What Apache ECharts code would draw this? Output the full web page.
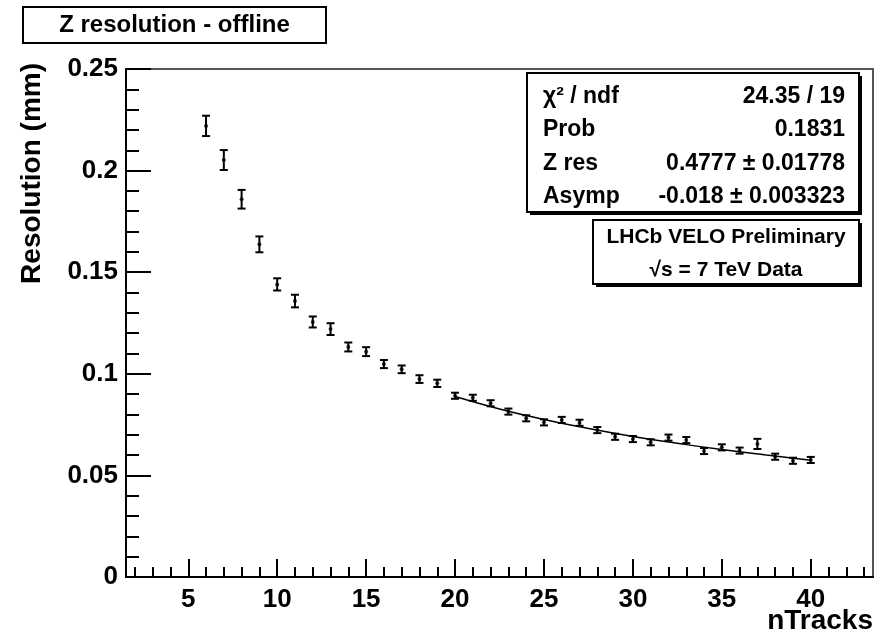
<!DOCTYPE html>
<html>
<head>
<meta charset="utf-8">
<script src="https://cdn.jsdelivr.net/npm/echarts@6/dist/echarts.min.js"></script>
<style>
html,body{margin:0;padding:0;background:#fff;}
#chart{width:883px;height:640px;}
</style>
</head>
<body>
<div id="chart"></div>
<script>
// ---- data ----
var nTracks = [6,7,8,9,10,11,12,13,14,15,16,17,18,19,20,21,22,23,24,25,26,27,28,29,30,31,32,33,34,35,36,37,38,39,40];
var resolution = [0.2220,0.2052,0.1859,0.1637,0.1440,0.1358,0.1255,0.1220,0.1132,0.1109,0.1048,0.1022,0.0974,0.0953,0.0892,0.0882,0.0855,0.0814,0.0781,0.0761,0.0773,0.0759,0.0723,0.0690,0.0679,0.0663,0.0686,0.0674,0.0620,0.0638,0.0622,0.0655,0.0592,0.0572,0.0576];
var resErr = [0.0050,0.0049,0.0046,0.0039,0.0030,0.0031,0.0027,0.0029,0.0022,0.0022,0.0020,0.0019,0.0019,0.0018,0.0015,0.0015,0.0015,0.0015,0.0015,0.0015,0.0015,0.0015,0.0015,0.0015,0.0015,0.0015,0.0015,0.0015,0.0015,0.0015,0.0015,0.0025,0.0015,0.0015,0.0015];
var fitX = [20,22.5,25,27.5,30,32.5,35,37.5,40];
var fitY = [0.0888,0.0827,0.0775,0.0731,0.0692,0.0658,0.0627,0.0600,0.0575];
var xMajorTicks = [5,10,15,20,25,30,35,40];
var xMinorTicks = [2,3,4,5,6,7,8,9,10,11,12,13,14,15,16,17,18,19,20,21,22,23,24,25,26,27,28,29,30,31,32,33,34,35,36,37,38,39,40,41,42,43];
var statLabels = ['χ² / ndf','Prob','Z res','Asymp'];
var statValues = ['24.35 / 19','0.1831','0.4777 ± 0.01778','-0.018 ± 0.003323'];
var titleText = 'Z resolution - offline';
var xTitle = 'nTracks';
var yTitle = 'Resolution (mm)';
var infoLines = ['LHCb VELO Preliminary','√s = 7 TeV Data'];

var FONT = '"Liberation Sans", Arial, Helvetica, sans-serif';

var pts = nTracks.map(function(x,i){ return [x, resolution[i], resErr[i]]; });
var fitData = fitX.map(function(x,i){ return [x, fitY[i]]; });

var chart = echarts.init(document.getElementById('chart'), null, {renderer:'canvas'});

var statGraphics = [];
var rowY = [97,130,164,197];
statLabels.forEach(function(t,i){
  statGraphics.push({type:'text', x:543, y:rowY[i], z:102, style:{text:t, font:'bold 23px '+FONT, fill:'#000', align:'left', verticalAlign:'middle'}});
  statGraphics.push({type:'text', x:845, y:rowY[i], z:102, style:{text:statValues[i], font:'bold 23px '+FONT, fill:'#000', align:'right', verticalAlign:'middle'}});
});

var option = {
  animation:false,
  backgroundColor:'#fff',
  grid:{left:126, right:10, top:69, bottom:63, show:true, borderColor:'#555', borderWidth:2, backgroundColor:'transparent'},
  xAxis:[{
    type:'value', min:1.5, max:43.5, position:'bottom',
    axisLine:{show:true, onZero:false, lineStyle:{color:'#000', width:2}},
    axisTick:{show:true, inside:true, length:18, customValues:xMajorTicks, lineStyle:{color:'#000', width:2}},
    axisLabel:{show:true, customValues:xMajorTicks, margin:10, color:'#000', fontSize:26, fontWeight:'bold', fontFamily:FONT},
    splitLine:{show:false}
  },{
    type:'value', min:1.5, max:43.5, position:'bottom',
    axisLine:{show:false},
    axisTick:{show:true, inside:true, length:10, customValues:xMinorTicks, lineStyle:{color:'#000', width:2}},
    axisLabel:{show:false},
    splitLine:{show:false}
  }],
  yAxis:{
    type:'value', min:0, max:0.25, interval:0.05,
    axisLine:{show:true, onZero:false, lineStyle:{color:'#000', width:2}},
    axisTick:{show:true, inside:true, length:25, lineStyle:{color:'#000', width:2}},
    minorTick:{show:true, splitNumber:5, length:13, lineStyle:{color:'#000', width:2}},
    axisLabel:{margin:8, color:'#000', fontSize:26, fontWeight:'bold', fontFamily:FONT,
      formatter:function(v){ return String(Math.round(v*100)/100); }},
    splitLine:{show:false}, minorSplitLine:{show:false}
  },
  series:[{
    type:'custom', xAxisIndex:0, yAxisIndex:0, data:pts, z:5,
    renderItem:function(params, api){
      var x = api.value(0), y = api.value(1), e = api.value(2);
      var lo = api.coord([x, y-e]);
      var hi = api.coord([x, y+e]);
      var w = 4;
      var st = {stroke:'#000', lineWidth:2};
      return {type:'group', children:[
        {type:'line', shape:{x1:lo[0], y1:lo[1], x2:hi[0], y2:hi[1]}, style:st},
        {type:'line', shape:{x1:lo[0]-w, y1:lo[1], x2:lo[0]+w, y2:lo[1]}, style:st},
        {type:'line', shape:{x1:hi[0]-w, y1:hi[1], x2:hi[0]+w, y2:hi[1]}, style:st}
      ]};
    }
  },{
    type:'scatter', xAxisIndex:0, yAxisIndex:0, data:pts.map(function(p){return [p[0],p[1]];}),
    symbol:'circle', symbolSize:4, itemStyle:{color:'#000'}, z:6
  },{
    type:'line', xAxisIndex:0, yAxisIndex:0, data:fitData, smooth:true, showSymbol:false,
    lineStyle:{color:'#000', width:1.5}, z:4
  }],
  graphic:[
    {type:'rect', shape:{x:23, y:7, width:303, height:36}, z:100, style:{fill:'#fff', stroke:'#000', lineWidth:2}},
    {type:'text', x:174.5, y:25, z:101, style:{text:titleText, font:'bold 24px '+FONT, fill:'#000', align:'center', verticalAlign:'middle'}},
    {type:'rect', shape:{x:530, y:76, width:332, height:139}, z:99, style:{fill:'#000'}},
    {type:'rect', shape:{x:527, y:73, width:332, height:139}, z:100, style:{fill:'#fff', stroke:'#000', lineWidth:2}},
    {type:'rect', shape:{x:596, y:223, width:266, height:64}, z:99, style:{fill:'#000'}},
    {type:'rect', shape:{x:593, y:220, width:266, height:64}, z:100, style:{fill:'#fff', stroke:'#000', lineWidth:2}},
    {type:'text', x:726, y:237, z:101, style:{text:infoLines[0], font:'bold 21px '+FONT, fill:'#000', align:'center', verticalAlign:'middle'}},
    {type:'text', x:726, y:270, z:101, style:{text:infoLines[1], font:'bold 21px '+FONT, fill:'#000', align:'center', verticalAlign:'middle'}},
    {type:'text', x:873, y:621, z:101, style:{text:xTitle, font:'bold 28px '+FONT, fill:'#000', align:'right', verticalAlign:'middle'}},
    {type:'text', x:32, y:63, rotation:Math.PI/2, z:101, style:{text:yTitle, font:'bold 28px '+FONT, fill:'#000', align:'right', verticalAlign:'middle'}}
  ].concat(statGraphics)
};
chart.setOption(option);
</script>
</body>
</html>
